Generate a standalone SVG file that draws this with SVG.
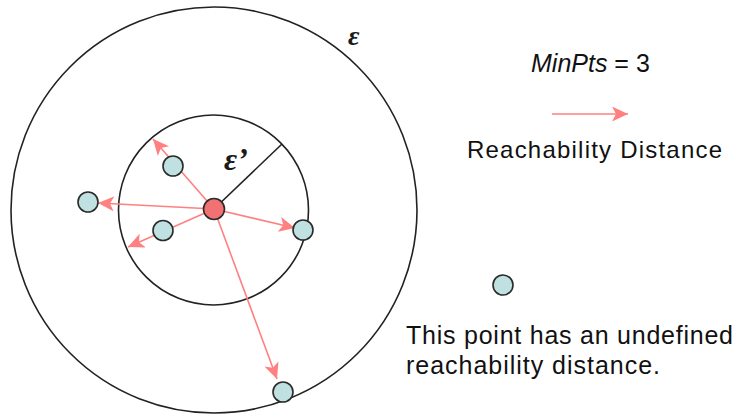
<svg xmlns="http://www.w3.org/2000/svg" width="738" height="420" viewBox="0 0 738 420">
<style>
.ring{fill:none;stroke:#222;stroke-width:1.6}
.pt{fill:#BFE1E1;stroke:#2a2a2a;stroke-width:1.6}
.core{fill:#F07272;stroke:#2a2a2a;stroke-width:1.6}
.arr{stroke:#FF8080;stroke-width:1.6;fill:none;marker-end:url(#ah)}
.txt{font-family:"Liberation Sans",Arial,sans-serif;fill:#111}
.eps{font-family:"Liberation Serif","Times New Roman",serif;font-style:italic;font-weight:bold;fill:#1a1a1a}
</style>
<defs>
<marker id="ah" markerUnits="userSpaceOnUse" markerWidth="18" markerHeight="16" refX="16" refY="7.5" orient="auto">
<path d="M0,0 L16,7.5 L0,15 L4,7.5 z" fill="#FF8080"/>
</marker>
</defs>
<rect width="738" height="420" fill="#fff"/>
<g id="outer-circle"><circle class="ring" cx="214" cy="210" r="203"/></g>
<g id="inner-circle"><circle class="ring" cx="213.5" cy="210" r="95"/></g>
<g id="radius"><line x1="214" y1="209" x2="282" y2="144" stroke="#222" stroke-width="1.6"/></g>
<g id="connectors">
<line class="arr" x1="214" y1="209" x2="153" y2="139"/>
<line class="arr" x1="214" y1="209" x2="98" y2="203"/>
<line class="arr" x1="214" y1="209" x2="128" y2="247"/>
<line class="arr" x1="214" y1="209" x2="295" y2="228"/>
<line class="arr" x1="214" y1="209" x2="277" y2="379"/>
<line class="arr" x1="552" y1="114" x2="628" y2="114"/>
</g>
<g id="p1"><circle class="pt" cx="173" cy="166" r="10"/></g>
<g id="p2"><circle class="pt" cx="88" cy="202" r="10"/></g>
<g id="p3"><circle class="pt" cx="163" cy="230.5" r="10"/></g>
<g id="p4"><circle class="pt" cx="303" cy="230" r="10"/></g>
<g id="p5"><circle class="pt" cx="283" cy="392" r="10"/></g>
<g id="p6"><circle class="pt" cx="503" cy="285" r="10"/></g>
<g id="core"><circle class="core" cx="214" cy="209" r="10.5"/></g>
<g id="labels">
<text class="eps" x="348" y="45" font-size="28">ε</text>
<text class="eps" x="224" y="170" font-size="32">ε’</text>
<text class="txt" x="531" y="72" font-size="25"><tspan font-style="italic">MinPts</tspan> = 3</text>
<text class="txt" x="467" y="158" font-size="24" textLength="255" lengthAdjust="spacing">Reachability Distance</text>
<text class="txt" x="406" y="344" font-size="25" textLength="327" lengthAdjust="spacing">This point has an undefined</text>
<text class="txt" x="406" y="374" font-size="25" textLength="254" lengthAdjust="spacing">reachability distance.</text>
</g>
</svg>
